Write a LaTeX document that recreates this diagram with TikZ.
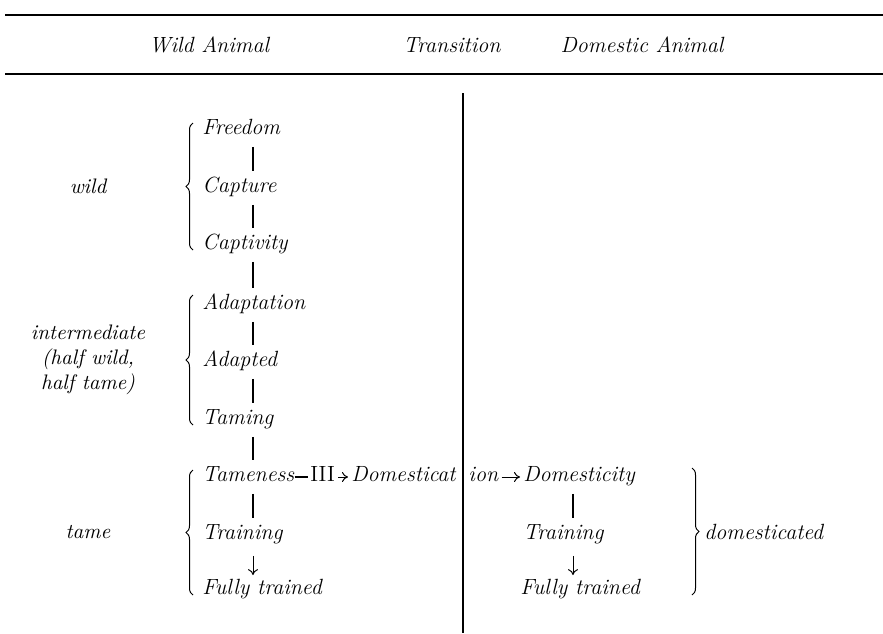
\documentclass[tikz,border=0pt]{standalone}
\usepackage{tikz}
\usetikzlibrary{decorations.pathreplacing,arrows.meta}

\begin{document}
\begin{tikzpicture}[x=0.5pt,y=-0.5pt,
    item/.style={font=\fontsize{11}{13}\selectfont\itshape, inner sep=1.5pt,
        text height=7pt, text depth=2.5pt, anchor=west},
    stage/.style={font=\fontsize{10.5}{12.5}\selectfont\itshape, align=center},
    head/.style={font=\fontsize{11}{13}\selectfont\itshape},
    bar/.style={line width=1.2pt, shorten <=2pt, shorten >=2pt},
    down/.style={-{To[length=3pt,width=5pt]}, line width=0.5pt, shorten <=4pt, shorten >=1pt},
    arr/.style={-{To[length=3pt,width=5pt]}, line width=0.5pt},
    sbrace/.style={decorate, decoration={brace, amplitude=3.5pt}, line width=0.5pt}]

    \useasboundingbox (0,0) rectangle (883,633);

    % Rules and column heads
    \draw[line width=1.4pt] (5,15) -- (883,15);
    \draw[line width=0.9pt] (5,74) -- (883,74);
    \node[head] (hwild) at (209,45) {Wild Animal};
    \node[head] (htrans) at (452,45) {Transition};
    \node[head] (hdom) at (642,45) {Domestic Animal};
    \draw[line width=0.6pt] (463,93) -- (463,633);

    % Wild animal column
    \foreach \name/\txt/\y in {freedom/Freedom/130, capture/Capture/188,
        captivity/Captivity/245, adaptation/Adaptation/305, adapted/Adapted/362,
        taming/Taming/420, tameness/Tameness/477, training/Training/535,
        fully/Fully trained/590} {
        \node[item] (\name) at (199,\y) {\txt};
    }
    \coordinate (spine) at (253,0);
    \foreach \a/\b in {freedom/capture, capture/captivity, captivity/adaptation,
        adaptation/adapted, adapted/taming, taming/tameness, tameness/training} {
        \draw[bar] (\a.south -| spine) -- (\b.north -| spine);
    }
    \draw[down] (training.south -| spine) -- (fully.north -| spine);

    % Stages and braces
    \node[stage] (wild) at (88,186) {wild};
    \node[stage] (inter) at (88,360) {intermediate\\(half wild,\\half tame)};
    \node[stage] (tame) at (88,532) {tame};
    \draw[sbrace] (193,250) -- (193,123);
    \draw[sbrace] (193,425) -- (193,295);
    \draw[sbrace] (193,595) -- (193,470);

    % Transition row
    \node[item, font=\fontsize{11}{13}\selectfont\upshape] (iii) at (307,477) {III};
    \node[item, anchor=east] (domesticat) at (459,477) {Domesticat};
    \node[item] (ion) at (465,477) {ion};
    \node[item] (domesticity) at (520,477) {Domesticity};
    \draw[line width=0.6pt, shorten <=-1.5pt, shorten >=-0.5pt] (tameness) -- (iii);
    \draw[arr] (iii) -- (domesticat);
    \draw[arr] (ion) -- (domesticity);

    % Domestic animal column
    \node[item] (training2) at (520,535) {Training};
    \node[item] (fully2) at (517,590) {Fully trained};
    \coordinate (spine2) at (573,0);
    \draw[bar] (domesticity.south -| spine2) -- (training2.north -| spine2);
    \draw[down] (training2.south -| spine2) -- (fully2.north -| spine2);
    \draw[sbrace] (692,468) -- (692,595);
    \node[item] (domesticated) at (701,535) {domesticated};
\end{tikzpicture}
\end{document}
